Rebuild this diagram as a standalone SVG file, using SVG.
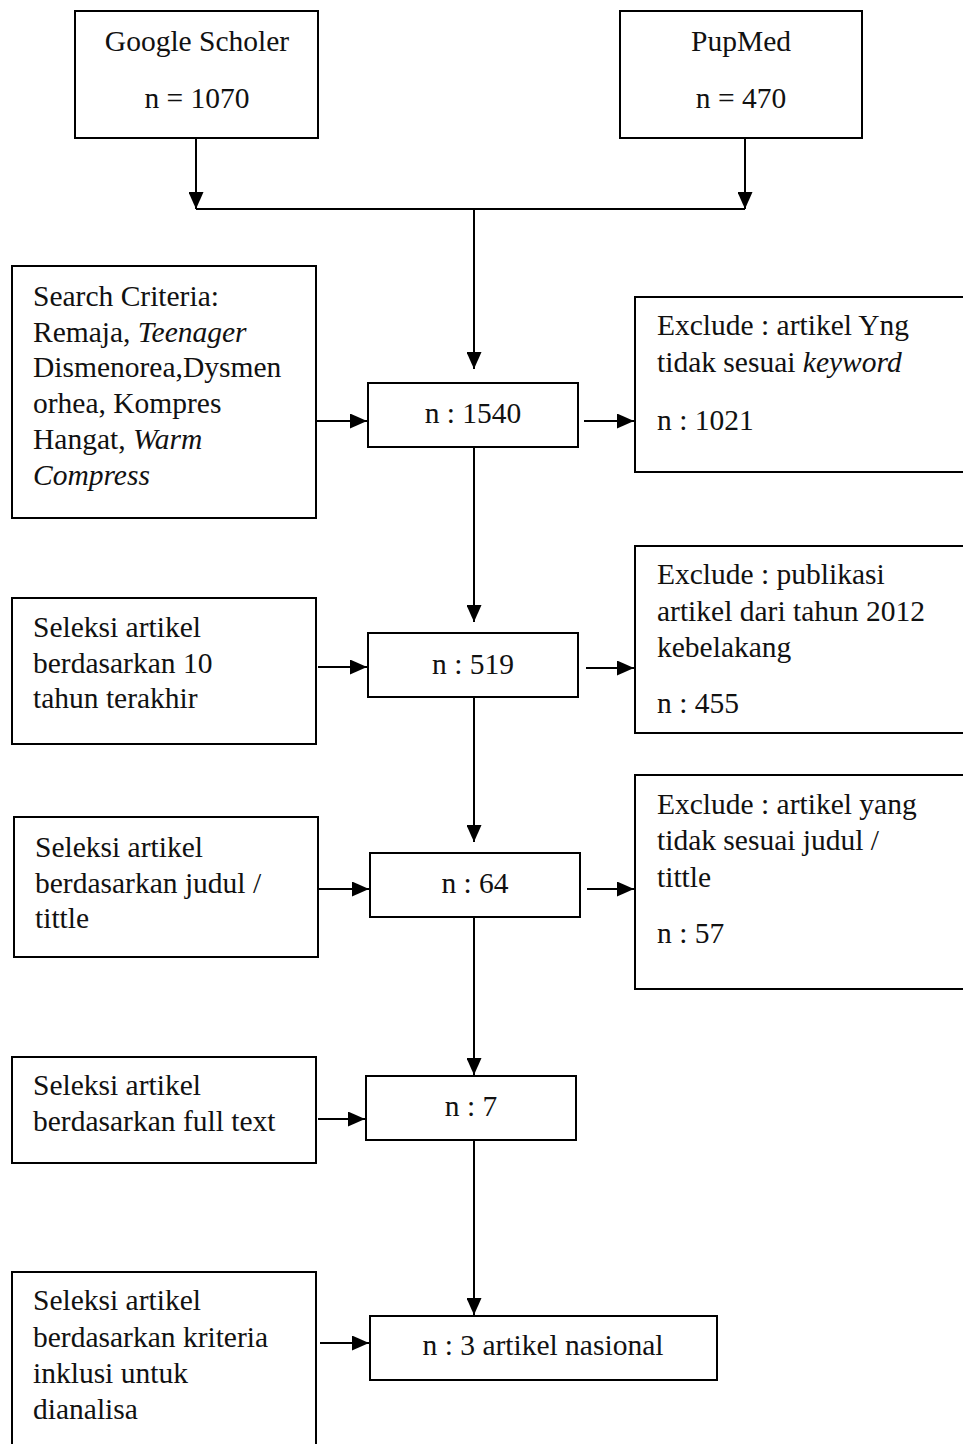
<svg xmlns="http://www.w3.org/2000/svg" width="963" height="1444" viewBox="0 0 963 1444">
<style>
.box{fill:#fff;stroke:#000;stroke-width:2}
.t{font-family:"Liberation Serif","Times New Roman",serif;font-size:29.5px;fill:#111}
.c{text-anchor:middle}
.i{font-style:italic}
.ln{stroke:#000;stroke-width:2;fill:none}
</style>
<defs>
<marker id="ah" viewBox="0 0 17 15" refX="17" refY="7.5" markerWidth="17" markerHeight="15" markerUnits="userSpaceOnUse" orient="auto">
<path d="M0,0 L17,7.5 L0,15 Z" fill="#000"/>
</marker>
</defs>
<rect width="963" height="1444" fill="#fff"/>
<g id="connectors">
<line class="ln" x1="196" y1="138" x2="196" y2="209" marker-end="url(#ah)"/>
<line class="ln" x1="745" y1="138" x2="745" y2="209" marker-end="url(#ah)"/>
<line class="ln" x1="196" y1="209" x2="745" y2="209"/>
<line class="ln" x1="474" y1="209" x2="474" y2="369" marker-end="url(#ah)"/>
<line class="ln" x1="316" y1="421" x2="367" y2="421" marker-end="url(#ah)"/>
<line class="ln" x1="584" y1="421" x2="634" y2="421" marker-end="url(#ah)"/>
<line class="ln" x1="474" y1="447" x2="474" y2="622" marker-end="url(#ah)"/>
<line class="ln" x1="318" y1="667" x2="367" y2="667" marker-end="url(#ah)"/>
<line class="ln" x1="586" y1="668" x2="634" y2="668" marker-end="url(#ah)"/>
<line class="ln" x1="474" y1="697" x2="474" y2="842" marker-end="url(#ah)"/>
<line class="ln" x1="318" y1="889" x2="369" y2="889" marker-end="url(#ah)"/>
<line class="ln" x1="587" y1="889" x2="634" y2="889" marker-end="url(#ah)"/>
<line class="ln" x1="474" y1="917" x2="474" y2="1075" marker-end="url(#ah)"/>
<line class="ln" x1="318" y1="1119" x2="365" y2="1119" marker-end="url(#ah)"/>
<line class="ln" x1="474" y1="1140" x2="474" y2="1315" marker-end="url(#ah)"/>
<line class="ln" x1="320" y1="1343" x2="369" y2="1343" marker-end="url(#ah)"/>
</g>
<g id="google">
<rect class="box" x="75" y="11" width="243" height="127"/>
<text class="t c" x="197" y="51">Google Scholer</text>
<text class="t c" x="197" y="108">n = 1070</text>
</g>
<g id="pubmed">
<rect class="box" x="620" y="11" width="242" height="127"/>
<text class="t c" x="741" y="51">PupMed</text>
<text class="t c" x="741" y="108">n = 470</text>
</g>
<g id="search">
<rect class="box" x="12" y="266" width="304" height="252"/>
<text class="t" x="33" y="306">Search Criteria:</text>
<text class="t" x="33" y="342">Remaja, <tspan class="i">Teenager</tspan></text>
<text class="t" x="33" y="377">Dismenorea,Dysmen</text>
<text class="t" x="33" y="413">orhea, Kompres</text>
<text class="t" x="33" y="449">Hangat, <tspan class="i">Warm</tspan></text>
<text class="t i" x="33" y="485">Compress</text>
</g>
<g id="n1540">
<rect class="box" x="368" y="383" width="210" height="64"/>
<text class="t c" x="473" y="423">n : 1540</text>
</g>
<g id="excl1">
<rect class="box" x="635" y="297" width="340" height="175"/>
<text class="t" x="657" y="335">Exclude : artikel Yng</text>
<text class="t" x="657" y="372">tidak sesuai <tspan class="i">keyword</tspan></text>
<text class="t" x="657" y="430">n : 1021</text>
</g>
<g id="sel10">
<rect class="box" x="12" y="598" width="304" height="146"/>
<text class="t" x="33" y="637">Seleksi artikel</text>
<text class="t" x="33" y="673">berdasarkan 10</text>
<text class="t" x="33" y="708">tahun terakhir</text>
</g>
<g id="n519">
<rect class="box" x="368" y="633" width="210" height="64"/>
<text class="t c" x="473" y="674">n : 519</text>
</g>
<g id="excl2">
<rect class="box" x="635" y="546" width="340" height="187"/>
<text class="t" x="657" y="584">Exclude : publikasi</text>
<text class="t" x="657" y="621">artikel dari tahun 2012</text>
<text class="t" x="657" y="657">kebelakang</text>
<text class="t" x="657" y="713">n : 455</text>
</g>
<g id="seljudul">
<rect class="box" x="14" y="817" width="304" height="140"/>
<text class="t" x="35" y="857">Seleksi artikel</text>
<text class="t" x="35" y="893">berdasarkan judul /</text>
<text class="t" x="35" y="928">tittle</text>
</g>
<g id="n64">
<rect class="box" x="370" y="853" width="210" height="64"/>
<text class="t c" x="475" y="893">n : 64</text>
</g>
<g id="excl3">
<rect class="box" x="635" y="775" width="340" height="214"/>
<text class="t" x="657" y="814">Exclude : artikel yang</text>
<text class="t" x="657" y="850">tidak sesuai judul /</text>
<text class="t" x="657" y="887">tittle</text>
<text class="t" x="657" y="943">n : 57</text>
</g>
<g id="selfull">
<rect class="box" x="12" y="1057" width="304" height="106"/>
<text class="t" x="33" y="1095">Seleksi artikel</text>
<text class="t" x="33" y="1131">berdasarkan full text</text>
</g>
<g id="n7">
<rect class="box" x="366" y="1076" width="210" height="64"/>
<text class="t c" x="471" y="1116">n : 7</text>
</g>
<g id="selkriteria">
<rect class="box" x="12" y="1272" width="304" height="190"/>
<text class="t" x="33" y="1310">Seleksi artikel</text>
<text class="t" x="33" y="1347">berdasarkan kriteria</text>
<text class="t" x="33" y="1383">inklusi untuk</text>
<text class="t" x="33" y="1419">dianalisa</text>
</g>
<g id="n3">
<rect class="box" x="370" y="1316" width="347" height="64"/>
<text class="t c" x="543" y="1355">n : 3 artikel nasional</text>
</g>
</svg>
